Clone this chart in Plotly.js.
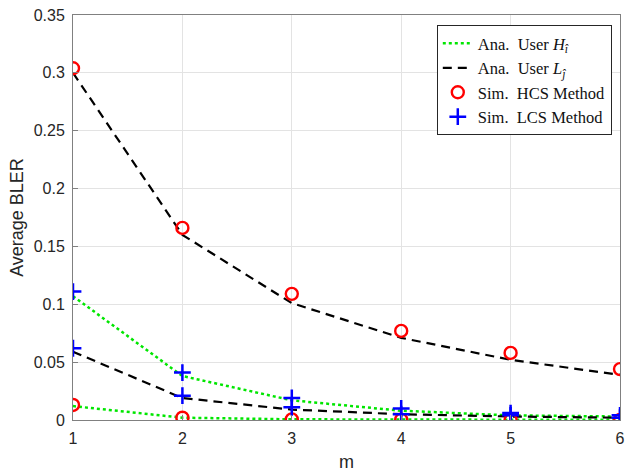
<!DOCTYPE html>
<html><head><meta charset="utf-8">
<script src="https://cdn.plot.ly/plotly-3.0.1.min.js"></script>
<style>body{margin:0;}#chart{width:626px;height:472px;}</style>
</head><body><div id="chart"></div>
<script>
const m = [1, 2, 3, 4, 5, 6];
const anaH_high = [0.107, 0.038, 0.017, 0.008, 0.004, 0.003];
const anaH_low  = [0.012, 0.002, 0.0006, 0.0003, 0.0002, 0.0001];
const anaL_high = [0.300, 0.160, 0.101, 0.071, 0.052, 0.039];
const anaL_low  = [0.059, 0.019, 0.009, 0.005, 0.003, 0.002];
const simHCS_high = [0.304, 0.166, 0.109, 0.077, 0.058, 0.044];
const simHCS_low  = [0.013, 0.002, 0.0005, 0.0003, 0.0002, 0.0001];
const simLCS_high = [0.111, 0.041, 0.019, 0.010, 0.006, 0.004];
const simLCS_low  = [0.062, 0.021, 0.011, 0.005, 0.004, 0.002];

const green = 'rgb(0,230,0)';
const traces = [
  {x: m, y: anaH_high, mode: 'lines', name: 'Ana.  User <i>H</i><sub><i>î</i></sub>', legendgroup: 'h',
   line: {color: green, dash: 'dot', width: 2.5}},
  {x: m, y: anaH_low, mode: 'lines', legendgroup: 'h', showlegend: false,
   line: {color: green, dash: 'dot', width: 2.5}},
  {x: m, y: anaL_high, mode: 'lines', name: 'Ana.  User <i>L</i><sub><i>ĵ</i></sub>', legendgroup: 'l',
   line: {color: 'black', dash: '9px,6px', width: 2.2}},
  {x: m, y: anaL_low, mode: 'lines', legendgroup: 'l', showlegend: false,
   line: {color: 'black', dash: '9px,6px', width: 2.2}},
  {x: m, y: simHCS_high, mode: 'markers', name: 'Sim.  HCS Method', legendgroup: 'hcs',
   marker: {symbol: 'circle-open', size: 12, color: 'red', line: {width: 2.4, color: 'red'}}},
  {x: m, y: simHCS_low, mode: 'markers', legendgroup: 'hcs', showlegend: false,
   marker: {symbol: 'circle-open', size: 12, color: 'red', line: {width: 2.4, color: 'red'}}},
  {x: m, y: simLCS_high, mode: 'markers', name: 'Sim.  LCS Method', legendgroup: 'lcs',
   marker: {symbol: 'cross-thin-open', size: 12, color: 'blue', line: {width: 2.5, color: 'blue'}}},
  {x: m, y: simLCS_low, mode: 'markers', legendgroup: 'lcs', showlegend: false,
   marker: {symbol: 'cross-thin-open', size: 12, color: 'blue', line: {width: 2.5, color: 'blue'}}}
];

const layout = {
  width: 626, height: 472,
  margin: {l: 73, r: 6, t: 15, b: 52},
  paper_bgcolor: 'white', plot_bgcolor: 'white',
  showlegend: true,
  font: {family: 'Liberation Sans, Arial, sans-serif', size: 16, color: '#262626'},
  xaxis: {
    range: [1, 6], tickvals: m, ticktext: m.map(String),
    showgrid: true, gridcolor: '#e3e3e3', gridwidth: 1,
    showline: true, linecolor: '#808080', linewidth: 1, mirror: true,
    ticks: 'inside', ticklen: 5, tickcolor: '#808080',
    zeroline: false, ticklabeloverflow: 'allow', ticklabelstandoff: 4,
    title: {text: 'm', font: {size: 18, color: '#262626'}, standoff: 10},
    tickfont: {size: 16, color: '#262626'}
  },
  yaxis: {
    range: [0, 0.35], tickvals: [0, 0.05, 0.1, 0.15, 0.2, 0.25, 0.3, 0.35],
    ticktext: ['0', '0.05', '0.1', '0.15', '0.2', '0.25', '0.3', '0.35'],
    showgrid: true, gridcolor: '#e3e3e3', gridwidth: 1,
    showline: true, linecolor: '#808080', linewidth: 1, mirror: true,
    ticks: 'inside', ticklen: 5, tickcolor: '#808080',
    zeroline: false, ticklabelstandoff: 4,
    title: {text: 'Average BLER', font: {size: 18, color: '#262626'}, standoff: 5},
    tickfont: {size: 16, color: '#262626'}
  },
  legend: {
    x: 0.985, y: 0.975, xanchor: 'right', yanchor: 'top',
    bgcolor: 'white', bordercolor: '#262626', borderwidth: 1,
    font: {family: 'Liberation Serif, DejaVu Serif, serif', size: 16.5, color: '#111'},
    itemwidth: 30, tracegroupgap: 0
  }
};
Plotly.newPlot('chart', traces, layout, {displayModeBar: false, staticPlot: true});
</script></body></html>
